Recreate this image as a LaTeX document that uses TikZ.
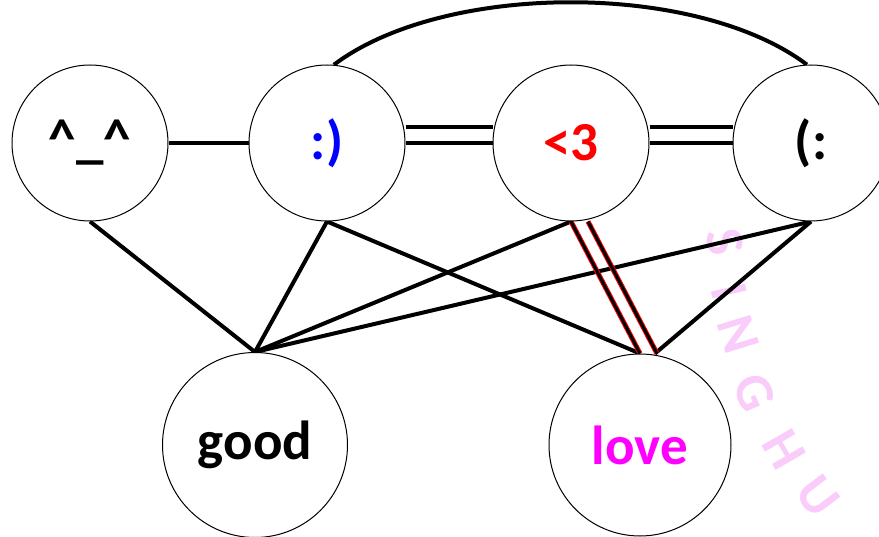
\documentclass[tikz,border=0pt]{standalone}
\usepackage{fontspec}
\setmainfont{Carlito}
\usetikzlibrary{calc}
\definecolor{cblue}{RGB}{0,0,255}
\definecolor{cred}{RGB}{255,0,0}
\definecolor{cmag}{RGB}{255,0,255}
\definecolor{wmpink}{RGB}{250,204,250}
\pgfdeclarelayer{wm}
\pgfdeclarelayer{edges}
\pgfsetlayers{wm,edges,main}
\begin{document}
\begin{tikzpicture}[x=1pt,y=1pt,
  vertex/.style={circle, draw=black, line width=1pt, fill=white, minimum size=156pt, inner sep=0pt,
    font=\fontsize{55}{60}\selectfont\bfseries},
  bigvertex/.style={vertex, minimum size=185pt},
  edge/.style={line width=4pt},
  rededge/.style={draw=cred, line width=1pt, double=black, double distance=3pt},
  wmletter/.style={text=wmpink, font=\fontsize{54}{54}\selectfont\bfseries, inner sep=0pt}]
\useasboundingbox (0,0) rectangle (879,-537);
\node[vertex] (caret) at (90,-143) {\symbol{94}\_\symbol{94}};
\node[vertex, text=cblue] (smile) at (327,-143) {:)};
\node[vertex, text=cred] (heart) at (571,-143) {<3};
\node[vertex] (frown) at (811,-143) {(:};
\node[bigvertex] (good) at (255,-445) {good};
\node[vertex, minimum size=182pt, text=cmag] (love) at (640,-445) {love};
\begin{pgfonlayer}{wm}
\node[wmletter, rotate=-80] (wS) at (725,-242) {S};
\node[wmletter, rotate=-77] (wI) at (729,-292) {I};
\node[wmletter, rotate=-73] (wN) at (738,-334) {N};
\node[wmletter, rotate=-67] (wG) at (754,-392) {G};
\node[wmletter, rotate=-60] (wH) at (784,-449) {H};
\node[wmletter, rotate=-53] (wU) at (818,-496) {U};
\end{pgfonlayer}
\begin{pgfonlayer}{edges}
\draw[edge] (caret) -- (smile);
\draw[edge] (smile) -- (heart);
\draw[edge] ($(smile.east)+(0,16)$) -- ($(heart.west)+(0,16)$);
\draw[edge] (heart) -- (frown);
\draw[edge] ($(heart.east)+(0,16)$) -- ($(frown.west)+(0,16)$);
\draw[edge] (smile.85) to[out=37,in=143,looseness=0.75] (frown.93);
\draw[edge] (caret.south) -- (good.north);
\draw[edge] (smile.south) -- (good.north);
\draw[edge] (heart.south) -- (good.north);
\draw[edge] (frown.south) -- (good.north);
\draw[edge] (smile.south) -- (love.north);
\draw[edge] (frown.south) -- ($(love.north)+(15,0)$);
\draw[rededge] (heart.south) -- (love.north);
\draw[rededge] ($(heart.south)+(17,0)$) -- ($(love.north)+(17,0)$);
\end{pgfonlayer}
\end{tikzpicture}
\end{document}
